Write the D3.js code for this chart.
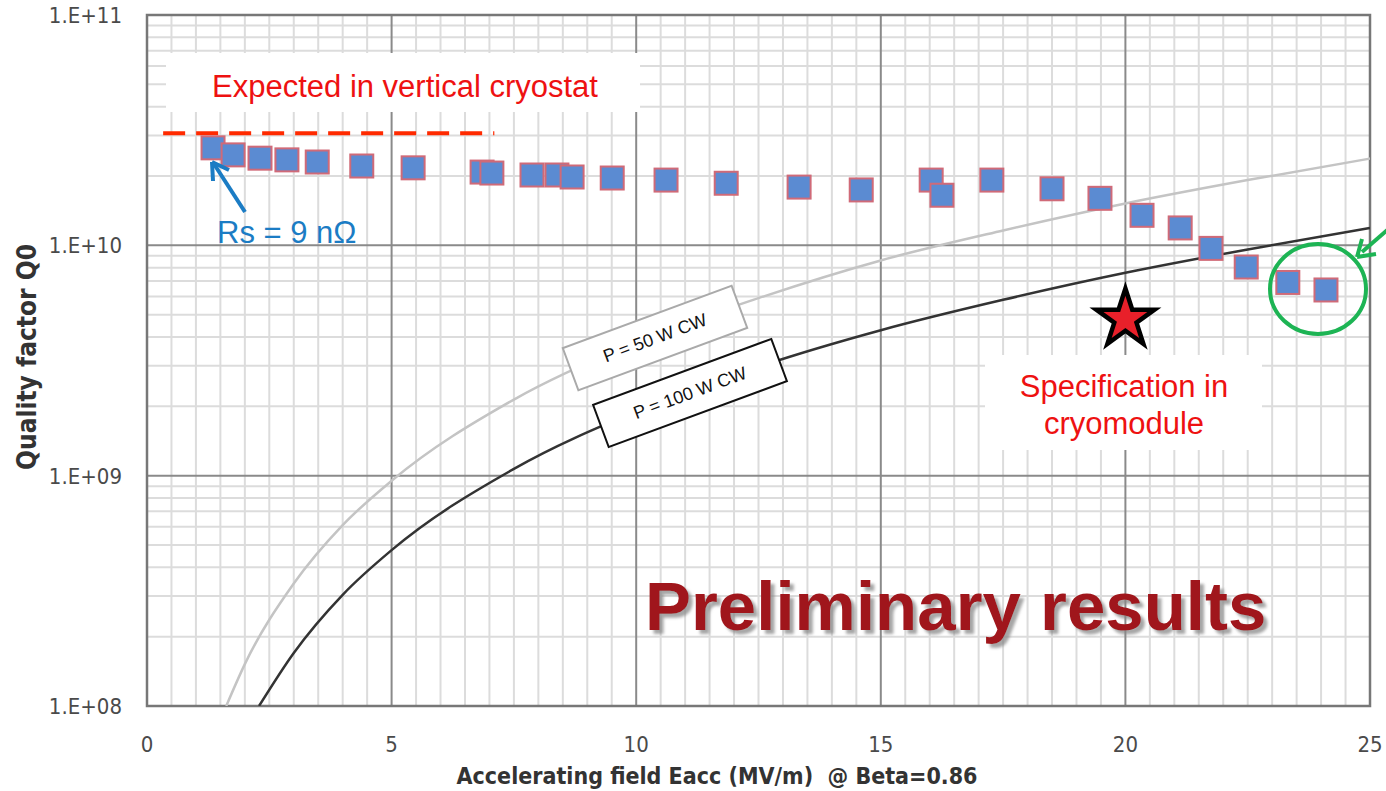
<!DOCTYPE html>
<html>
<head>
<meta charset="utf-8">
<script src="https://cdn.jsdelivr.net/npm/d3@7"></script>
<style>
  body { margin: 0; background: #fff; }
  svg { display: block; }
</style>
</head>
<body>
<div id="chart"></div>
<script>
const eacc = [1.35, 1.76, 2.31, 2.86, 3.48, 4.39, 5.44, 6.85, 7.05, 7.87, 8.38, 8.69, 9.51,
  10.61, 11.84, 13.33, 14.6, 16.03, 16.25, 17.27, 18.5, 19.48, 20.34, 21.12, 21.75, 22.47, 23.32, 24.1];
const q0 = [2.65e10, 2.47e10, 2.39e10, 2.35e10, 2.30e10, 2.21e10, 2.17e10, 2.08e10, 2.06e10, 2.02e10, 2.02e10, 1.98e10, 1.96e10,
  1.92e10, 1.86e10, 1.79e10, 1.74e10, 1.92e10, 1.65e10, 1.92e10, 1.76e10, 1.60e10, 1.35e10, 1.19e10, 9.7e9, 8.05e9, 6.9e9, 6.4e9];

// Power limit curves
const p50x = [1.62, 2, 3, 4, 5, 7.5, 10, 12.5, 15, 17.5, 20, 22.5, 25];
const p50y = [1e8, 1.52e8, 3.4e8, 6.1e8, 9.5e8, 2.14e9, 3.8e9, 5.9e9, 8.6e9, 1.16e10, 1.52e10, 1.92e10, 2.38e10];
const p100x = [2.29, 3, 4, 5, 7.5, 10, 12.5, 15, 17.5, 20, 22.5, 25];
const p100y = [1e8, 1.7e8, 3.04e8, 4.75e8, 1.07e9, 1.9e9, 2.97e9, 4.28e9, 5.8e9, 7.6e9, 9.6e9, 1.19e10];

// Expected level in vertical cryostat, spec point
const expectedX = [0.33, 7.1];
const expectedQ = 3.07e10;
const specX = 20, specQ = 4.93e9;

const xTicks = [0, 5, 10, 15, 20, 25];
const yTicks = [1e8, 1e9, 1e10, 1e11];
const yTickLabels = ['1.E+08', '1.E+09', '1.E+10', '1.E+11'];

const width = 1386, height = 791;
const margin = { left: 147, right: 16, top: 15, bottom: 85 };

const svg = d3.select('#chart').append('svg')
  .attr('width', width)
  .attr('height', height);

const x = d3.scaleLinear().domain([0, 25]).range([margin.left, width - margin.right]);
const y = d3.scaleLog().domain([1e8, 1e11]).range([height - margin.bottom, margin.top]);

const defs = svg.append('defs');
defs.append('clipPath').attr('id', 'plot-clip')
  .append('rect')
  .attr('x', x(0)).attr('y', y(1e11))
  .attr('width', x(25) - x(0)).attr('height', y(1e8) - y(1e11));

// soft grey shadow for the big caption
defs.append('filter').attr('id', 'shadow')
  .attr('x', '-5%').attr('y', '-20%').attr('width', '115%').attr('height', '150%')
  .append('feDropShadow')
  .attr('dx', 4).attr('dy', 4).attr('stdDeviation', 1.5)
  .attr('flood-color', '#888').attr('flood-opacity', 0.75);

// grid
const grid = svg.append('g').attr('class', 'grid');
const minorX = d3.range(0.5, 25, 0.5).filter(v => v % 5 !== 0);
grid.selectAll('.vminor').data(minorX).enter().append('line')
  .attr('x1', d => x(d)).attr('x2', d => x(d))
  .attr('y1', y(1e11)).attr('y2', y(1e8))
  .attr('stroke', '#dcdcdc').attr('stroke-width', 2);

const minorY = [];
[1e8, 1e9, 1e10].forEach(dec => d3.range(2, 10).forEach(k => minorY.push(dec * k)));
grid.selectAll('.hminor').data(minorY).enter().append('line')
  .attr('x1', x(0)).attr('x2', x(25))
  .attr('y1', d => y(d)).attr('y2', d => y(d))
  .attr('stroke', '#dcdcdc').attr('stroke-width', 2);

grid.selectAll('.vmajor').data(xTicks.slice(1, -1)).enter().append('line')
  .attr('x1', d => x(d)).attr('x2', d => x(d))
  .attr('y1', y(1e11)).attr('y2', y(1e8))
  .attr('stroke', '#8a8a8a').attr('stroke-width', 2);
grid.selectAll('.hmajor').data(yTicks.slice(1, -1)).enter().append('line')
  .attr('x1', x(0)).attr('x2', x(25))
  .attr('y1', d => y(d)).attr('y2', d => y(d))
  .attr('stroke', '#8a8a8a').attr('stroke-width', 2);

// frame
svg.append('rect')
  .attr('x', x(0)).attr('y', y(1e11))
  .attr('width', x(25) - x(0)).attr('height', y(1e8) - y(1e11))
  .attr('fill', 'none').attr('stroke', '#777').attr('stroke-width', 2.5);

// white box behind the top note
svg.append('rect')
  .attr('x', 166).attr('y', 53).attr('width', 474).attr('height', 59)
  .attr('fill', '#fff');

// power curves
const line = d3.line().curve(d3.curveMonotoneX).x(d => x(d[0])).y(d => y(d[1]));
const curves = svg.append('g').attr('clip-path', 'url(#plot-clip)');
curves.append('path')
  .datum(d3.zip(p50x, p50y))
  .attr('d', line)
  .attr('fill', 'none').attr('stroke', '#c4c4c4').attr('stroke-width', 2.5);
curves.append('path')
  .datum(d3.zip(p100x, p100y))
  .attr('d', line)
  .attr('fill', 'none').attr('stroke', '#333').attr('stroke-width', 2.5);

// rotated curve labels
const curveLabels = [
  { text: 'P = 50 W CW', cx: 655, cy: 338, w: 180, h: 45, stroke: '#aaa' },
  { text: 'P = 100 W CW', cx: 690, cy: 393, w: 190, h: 45, stroke: '#111' }
];
const lab = svg.selectAll('.curve-label').data(curveLabels).enter().append('g')
  .attr('transform', d => `translate(${d.cx},${d.cy}) rotate(-20.3)`);
lab.append('rect')
  .attr('x', d => -d.w / 2).attr('y', d => -d.h / 2)
  .attr('width', d => d.w).attr('height', d => d.h)
  .attr('fill', '#fff').attr('stroke', d => d.stroke).attr('stroke-width', 2);
lab.append('text')
  .text(d => d.text)
  .attr('text-anchor', 'middle').attr('dy', '6')
  .attr('font-family', 'Liberation Sans, Arial, sans-serif')
  .attr('font-size', 18).attr('fill', '#111');

// expected dashed line
svg.append('line')
  .attr('x1', x(expectedX[0])).attr('x2', x(expectedX[1]))
  .attr('y1', y(expectedQ)).attr('y2', y(expectedQ))
  .attr('stroke', '#ff2a00').attr('stroke-width', 4)
  .attr('stroke-dasharray', '22,11');

// data squares
svg.append('g').selectAll('rect.pt')
  .data(d3.zip(eacc, q0))
  .enter().append('rect')
  .attr('class', 'pt')
  .attr('x', d => x(d[0]) - 11.5).attr('y', d => y(d[1]) - 11.5)
  .attr('width', 23).attr('height', 23)
  .attr('fill', '#5b8bd2').attr('stroke', '#d06a78').attr('stroke-width', 2);

// spec star
const star = d3.symbol().type(d3.symbolStar).size(1050);
svg.append('path')
  .attr('d', star)
  .attr('transform', `translate(${x(specX)},${y(specQ) + 3})`)
  .attr('fill', '#e8202a').attr('stroke', '#000').attr('stroke-width', 4.5)
  .attr('stroke-linejoin', 'miter');

// green ellipse around the last points + arrow
svg.append('ellipse')
  .attr('cx', 1318).attr('cy', 289).attr('rx', 48).attr('ry', 45)
  .attr('fill', 'none').attr('stroke', '#1db454').attr('stroke-width', 4);
svg.append('line')
  .attr('x1', 1392).attr('y1', 226).attr('x2', 1362).attr('y2', 252)
  .attr('stroke', '#1db454').attr('stroke-width', 4);
svg.append('path')
  .attr('d', 'M1357,257 L1362,239 M1357,257 L1376,254')
  .attr('fill', 'none').attr('stroke', '#1db454').attr('stroke-width', 4);

// blue Rs arrow
svg.append('line')
  .attr('x1', 245).attr('y1', 212).attr('x2', 214).attr('y2', 164)
  .attr('stroke', '#1b7cc4').attr('stroke-width', 4);
svg.append('path')
  .attr('d', 'M212,162 L213,181 M212,162 L229,170')
  .attr('fill', 'none').attr('stroke', '#1b7cc4').attr('stroke-width', 4);

// annotation texts
const sans = 'Liberation Sans, Arial, sans-serif';
svg.append('text').text('Expected in vertical cryostat')
  .attr('x', 405).attr('y', 97).attr('text-anchor', 'middle')
  .attr('font-family', sans).attr('font-size', 31).attr('fill', '#ee1111');
svg.append('text').text('Rs = 9 nΩ')
  .attr('x', 217).attr('y', 243)
  .attr('font-family', sans).attr('font-size', 31).attr('fill', '#1b7cc4');

svg.append('rect')
  .attr('x', 985).attr('y', 355).attr('width', 277).attr('height', 95)
  .attr('fill', '#fff');
svg.append('text').text('Specification in')
  .attr('x', 1124).attr('y', 397).attr('text-anchor', 'middle')
  .attr('font-family', sans).attr('font-size', 31).attr('fill', '#ee1111');
svg.append('text').text('cryomodule')
  .attr('x', 1124).attr('y', 434).attr('text-anchor', 'middle')
  .attr('font-family', sans).attr('font-size', 31).attr('fill', '#ee1111');

// preliminary results with shadow
svg.append('text').text('Preliminary results')
  .attr('x', 645).attr('y', 630)
  .attr('font-family', sans).attr('font-weight', 'bold').attr('font-size', 69)
  .attr('fill', '#a0161b')
  .attr('filter', 'url(#shadow)');

// axes labels
const axisFont = 'Liberation Sans Narrow, DejaVu Sans Condensed, Arial Narrow, sans-serif';
svg.append('g').selectAll('text').data(yTicks).enter().append('text')
  .text((d, i) => yTickLabels[i])
  .attr('x', 122).attr('y', d => y(d) + 8)
  .attr('text-anchor', 'end')
  .attr('font-family', axisFont).attr('font-size', 22).attr('fill', '#4a4a4a');
svg.append('g').selectAll('text').data(xTicks).enter().append('text')
  .text(d => d)
  .attr('x', d => x(d)).attr('y', 752)
  .attr('text-anchor', 'middle')
  .attr('font-family', axisFont).attr('font-size', 22).attr('fill', '#4a4a4a');

svg.append('text').text('Accelerating field Eacc (MV/m)  @ Beta=0.86')
  .attr('x', 717).attr('y', 784).attr('text-anchor', 'middle')
  .attr('xml:space', 'preserve')
  .attr('font-family', axisFont).attr('font-weight', 'bold').attr('font-size', 23)
  .attr('fill', '#333');
svg.append('text').text('Quality factor Q0')
  .attr('transform', 'translate(36,357) rotate(-90)')
  .attr('text-anchor', 'middle')
  .attr('font-family', axisFont).attr('font-weight', 'bold').attr('font-size', 26)
  .attr('fill', '#333');
</script>
</body>
</html>
